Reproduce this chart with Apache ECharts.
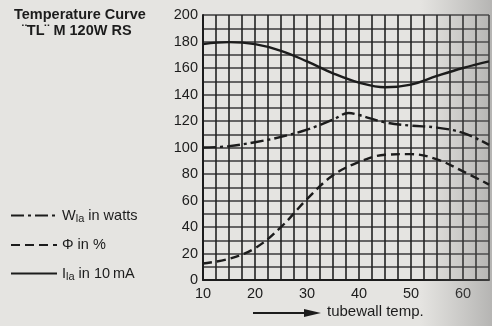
<!DOCTYPE html>
<html>
<head>
<meta charset="utf-8">
<script src="https://cdn.jsdelivr.net/npm/echarts@6/dist/echarts.min.js"></script>
<style>
  html, body { margin: 0; padding: 0; background: #e5e4e1; }
  #chart { width: 492px; height: 326px; }
</style>
</head>
<body>
<div id="chart"></div>
<script>
// Tube wall temperature (°C) and the three characteristics read along it
const wattsTemps   = [10, 15, 20, 25, 30, 35, 38, 40, 45, 50, 55, 60, 65];
const wattsValues  = [100, 101, 104, 108, 113.5, 121, 126, 124.5, 119, 116.5, 115, 111, 102];

const fluxTemps    = [10, 15, 20, 25, 30, 35, 40, 45, 50, 55, 60, 65];
const fluxValues   = [12.5, 16, 24, 40, 61, 79, 89, 94.5, 95, 91, 82, 72];

const currentTemps  = [10, 15, 20, 25, 30, 35, 40, 45, 50, 55, 60, 65];
const currentValues = [178, 179.5, 178, 173, 165, 156, 149, 145.5, 147.5, 154, 160, 165];

const xTickLabels = [10, 20, 30, 40, 50, 60];
const yTickLabels = [0, 20, 40, 60, 80, 100, 120, 140, 160, 180, 200];

const seriesNames = ['watts', 'flux', 'current'];
const legendText = {
  watts: '{n|W}{s|la}{n| in watts}',
  flux: '{n|\u03A6 in %}',
  current: '{n|I}{s|la}{n| in 10\u2009mA}'
};

const pairs = (xs, ys) => xs.map((x, i) => [x, ys[i]]);
const ink = '#1c1c1c';
const font = 'Liberation Sans, Arial, sans-serif';

const chart = echarts.init(document.getElementById('chart'), null, { renderer: 'canvas' });

chart.setOption({
  backgroundColor: '#e5e4e1',
  animation: false,
  color: [ink, ink, ink],
  textStyle: { fontFamily: font, color: ink },
  title: [
    {
      text: 'Temperature Curve',
      left: 9, top: 2,
      textStyle: { fontSize: 14.5, fontWeight: 'bold', color: ink, fontFamily: font }
    },
    {
      text: '\u00A8TL\u00A8 M 120W RS',
      left: 17, top: 18,
      textStyle: { fontSize: 14.5, fontWeight: 'bold', color: ink, fontFamily: font }
    }
  ],
  legend: {
    orient: 'vertical',
    left: 5, top: 203,
    itemWidth: 46, itemHeight: 14,
    itemGap: 13.5,
    data: seriesNames,
    formatter: name => legendText[name],
    itemStyle: { opacity: 0 },
    textStyle: {
      rich: {
        n: { fontSize: 14.5, color: ink, fontFamily: font },
        s: { fontSize: 11, color: ink, padding: [6, 0, 0, 0], fontFamily: font }
      }
    }
  },
  grid: { left: 203, right: -5, top: 15, bottom: 46, containLabel: false },
  xAxis: {
    type: 'value', min: 10, max: 65, interval: 2.5,
    axisLine: { show: true, lineStyle: { color: ink, width: 2 } },
    axisTick: { show: false },
    splitLine: { show: true, lineStyle: { color: '#222', width: 1.6 } },
    axisLabel: {
      fontSize: 14.5, color: ink, margin: 6,
      formatter: v => xTickLabels.includes(v) ? String(v) : ''
    }
  },
  yAxis: {
    type: 'value', min: 0, max: 200, interval: 10,
    axisLine: { show: true, lineStyle: { color: ink, width: 2 } },
    axisTick: { show: false },
    splitLine: { show: true, lineStyle: { color: '#3a3a3a', width: 1.5 } },
    axisLabel: {
      fontSize: 14.5, color: ink, margin: 5,
      formatter: v => yTickLabels.includes(v) ? String(v) : ''
    }
  },
  graphic: [
    {
      type: 'rect', z: 1, silent: true,
      shape: { x: 420, y: 0, width: 72, height: 326 },
      style: {
        fill: new echarts.graphic.LinearGradient(0, 0, 1, 0, [
          { offset: 0, color: 'rgba(120,120,120,0)' },
          { offset: 1, color: 'rgba(110,110,110,0.4)' }
        ])
      }
    },
    {
      type: 'line', z: 10,
      shape: { x1: 253, y1: 313, x2: 308, y2: 313 },
      style: { stroke: ink, lineWidth: 2 }
    },
    {
      type: 'polygon', z: 10,
      shape: { points: [[304, 309], [321, 313], [304, 317]] },
      style: { fill: ink }
    },
    {
      type: 'text', z: 10, left: 327, top: 304,
      style: { text: 'tubewall temp.', fontSize: 15, fill: ink, fontFamily: font }
    }
  ],
  series: [
    {
      name: 'watts', type: 'line', smooth: 0.4, symbol: 'none', z: 5,
      data: pairs(wattsTemps, wattsValues),
      itemStyle: { color: ink },
      lineStyle: { color: ink, width: 2.4, type: [13, 4, 3, 4] }
    },
    {
      name: 'flux', type: 'line', smooth: 0.4, symbol: 'none', z: 5,
      data: pairs(fluxTemps, fluxValues),
      itemStyle: { color: ink },
      lineStyle: { color: ink, width: 2.4, type: [9, 5] }
    },
    {
      name: 'current', type: 'line', smooth: 0.4, symbol: 'none', z: 5,
      data: pairs(currentTemps, currentValues),
      itemStyle: { color: ink },
      lineStyle: { color: ink, width: 2.4, type: 'solid' }
    }
  ]
});
</script>
</body>
</html>
